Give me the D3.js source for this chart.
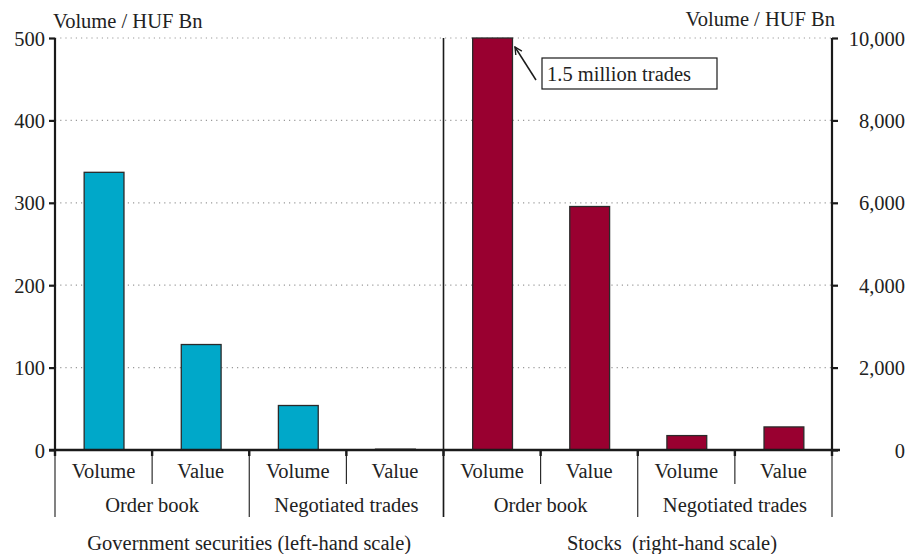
<!DOCTYPE html>
<html>
<head>
<meta charset="utf-8">
<script src="https://cdn.jsdelivr.net/npm/d3@7"></script>
<style>
  body { margin: 0; background: #fff; }
  svg text { font-family: "Liberation Serif", "DejaVu Serif", serif; font-size: 20.5px; fill: #222; }
</style>
</head>
<body>
<svg width="909" height="554"></svg>
<script>
// data
const segments = ["Government securities (left-hand scale)", "Stocks  (right-hand scale)"];
const tradeTypes = ["Order book", "Negotiated trades"];
const measures = ["Volume", "Value"];
const govValues = [337, 128, 54, 1];
const stockValues = [10000, 5910, 350, 560];
const leftTicks = [0, 100, 200, 300, 400, 500];
const rightTicks = [0, 2000, 4000, 6000, 8000, 10000];
const annotationText = "1.5 million trades";

const svg = d3.select("svg");
const plotLeft = 55, plotRight = 832, plotTop = 38, plotBottom = 450;
const teal = "#00a8c9", crimson = "#990030";

// one key per bar: segment-tradeType-measure
const keys = [];
const rows = [];
segments.forEach((s, si) => {
  tradeTypes.forEach((t, ti) => {
    measures.forEach((m, mi) => {
      const key = `${si}-${ti}-${mi}`;
      keys.push(key);
      rows.push({ key, seg: si, trade: ti, measure: m,
        value: si === 0 ? govValues[ti * 2 + mi] : stockValues[ti * 2 + mi] });
    });
  });
});

const x = d3.scaleBand().domain(keys).range([plotLeft, plotRight]).padding(0);
const yL = d3.scaleLinear().domain([0, 500]).range([plotBottom, plotTop]);
const yR = d3.scaleLinear().domain([0, 10000]).range([plotBottom, plotTop]);
const bw = x.bandwidth();
const barW = bw * 0.41;

// dotted gridlines
svg.append("g")
  .selectAll("line")
  .data(leftTicks.filter(d => d > 0))
  .join("line")
    .attr("x1", plotLeft).attr("x2", plotRight)
    .attr("y1", d => yL(d)).attr("y2", d => yL(d))
    .attr("stroke", "#999")
    .attr("stroke-width", 1.2)
    .attr("stroke-dasharray", "1.2,4");

// bars
svg.append("g")
  .selectAll("rect")
  .data(rows)
  .join("rect")
    .attr("x", d => x(d.key) + (bw - barW) / 2 + 0.5)
    .attr("width", barW)
    .attr("y", d => (d.seg === 0 ? yL(d.value) : yR(d.value)))
    .attr("height", d => plotBottom - (d.seg === 0 ? yL(d.value) : yR(d.value)))
    .attr("fill", d => (d.seg === 0 ? teal : crimson))
    .attr("stroke", "#2a2a2a")
    .attr("stroke-width", 1.3);

// left axis
const axL = svg.append("g")
  .attr("transform", `translate(${plotLeft},0)`)
  .call(d3.axisLeft(yL).tickValues(leftTicks).tickSize(6).tickPadding(4).tickFormat(d3.format("d")));
axL.select(".domain").attr("stroke", "#1a1a1a").attr("stroke-width", 2.2).attr("d", `M0,${plotTop}V${plotBottom}`);
axL.selectAll(".tick line").attr("stroke", "#1a1a1a").attr("stroke-width", 2.2);
axL.selectAll(".tick text").attr("font-size", null).attr("font-family", null).attr("dy", "0.35em");
axL.attr("font-size", null).attr("font-family", null);

// right axis
const axR = svg.append("g")
  .attr("transform", `translate(${plotRight},0)`)
  .call(d3.axisRight(yR).tickValues(rightTicks).tickSize(6).tickFormat(d3.format(",")));
axR.select(".domain").attr("stroke", "#1a1a1a").attr("stroke-width", 2.2).attr("d", `M0,${plotTop}V${plotBottom}`);
axR.selectAll(".tick line").attr("stroke", "#1a1a1a").attr("stroke-width", 2.2);
axR.selectAll(".tick text")
  .attr("text-anchor", "end").attr("x", 905 - plotRight).attr("dy", "0.35em");
axR.attr("font-size", null).attr("font-family", null);

// axis titles
svg.append("text").attr("x", 53).attr("y", 28).text("Volume / HUF Bn");
svg.append("text").attr("x", 835).attr("y", 26).attr("text-anchor", "end").text("Volume / HUF Bn");

// middle divider between the two segments
const midX = x(keys[4]);
svg.append("line")
  .attr("x1", midX).attr("x2", midX).attr("y1", plotTop).attr("y2", 517)
  .attr("stroke", "#1a1a1a").attr("stroke-width", 1.6);

// category axis line
svg.append("line")
  .attr("x1", 49).attr("x2", 840).attr("y1", plotBottom).attr("y2", plotBottom)
  .attr("stroke", "#1a1a1a").attr("stroke-width", 2.4);

// dividers under the axis
const edges = keys.map(k => x(k)).concat([plotRight]);
const divs = svg.append("g");
edges.forEach((ex, i) => {
  const groupEdge = i % 2 === 0;
  divs.append("line")
    .attr("x1", ex).attr("x2", ex).attr("y1", plotBottom).attr("y2", groupEdge ? 517 : 484)
    .attr("stroke", "#1a1a1a").attr("stroke-width", 1.1);
  divs.append("line")
    .attr("x1", ex).attr("x2", ex).attr("y1", plotBottom).attr("y2", plotBottom + 6)
    .attr("stroke", "#1a1a1a").attr("stroke-width", 2.4);
});

// measure labels
svg.append("g")
  .selectAll("text")
  .data(rows)
  .join("text")
    .attr("x", d => x(d.key) + bw / 2)
    .attr("y", 478)
    .attr("text-anchor", "middle")
    .text(d => d.measure);

// trade type labels
segments.forEach((s, si) => {
  tradeTypes.forEach((t, ti) => {
    const k0 = `${si}-${ti}-0`;
    svg.append("text")
      .attr("x", x(k0) + bw)
      .attr("y", 512)
      .attr("text-anchor", "middle")
      .text(t);
  });
});

// segment labels
svg.append("text")
  .attr("x", (plotLeft + midX) / 2).attr("y", 550)
  .attr("text-anchor", "middle")
  .text(segments[0]);
svg.append("text")
  .attr("x", 672).attr("y", 550)
  .attr("text-anchor", "middle")
  .style("white-space", "pre")
  .text(segments[1]);

// annotation for the clipped stock volume bar
const tipX = x(keys[4]) + (bw + barW) / 2 + 3;
const tipY = yR(stockValues[0]) + 9;
svg.append("defs").append("marker")
  .attr("id", "arrow")
  .attr("viewBox", "0 0 10 10")
  .attr("refX", 9).attr("refY", 5)
  .attr("markerWidth", 9).attr("markerHeight", 9)
  .attr("markerUnits", "userSpaceOnUse")
  .attr("orient", "auto")
  .append("path")
    .attr("d", "M1,1 L9,5 L1,9")
    .attr("fill", "none").attr("stroke", "#1a1a1a").attr("stroke-width", 1.5);
svg.append("line")
  .attr("x1", tipX + 21).attr("y1", tipY + 33)
  .attr("x2", tipX).attr("y2", tipY)
  .attr("stroke", "#1a1a1a").attr("stroke-width", 1.5)
  .attr("marker-end", "url(#arrow)");
svg.append("rect")
  .attr("x", 542).attr("y", 58).attr("width", 175).attr("height", 31)
  .attr("fill", "#fff").attr("stroke", "#1a1a1a").attr("stroke-width", 1.2);
svg.append("text")
  .attr("x", 547).attr("y", 81).text(annotationText);
</script>
</body>
</html>
